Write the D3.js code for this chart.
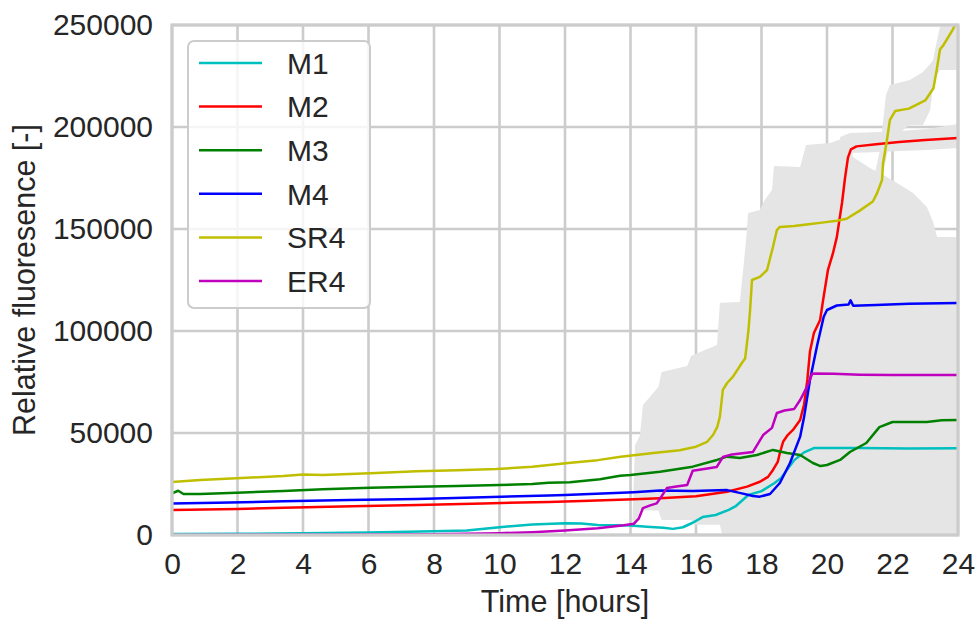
<!DOCTYPE html>
<html><head><meta charset="utf-8">
<script src="https://cdn.jsdelivr.net/npm/d3@7"></script>
<style>
html,body{margin:0;padding:0;background:#fff;}
svg{display:block;font-family:"Liberation Sans",Arial,sans-serif;}
</style></head>
<body><svg id="chart" width="976" height="619"></svg>
<script>
// ---------- data (time in hours, relative fluorescence) ----------
const seriesNames = ["M1","M2","M3","M4","SR4","ER4"];
const seriesColors = ["#00bfbf","#ff0000","#008000","#0000ff","#bfbf00","#bf00bf"];

const M1 = [[0,500],[2,600],[4,800],[6,1200],[8,1800],[9,2200],[10,3800],[11,5200],[12,5800],[12.5,5600],[13,4900],[14,4600],[14.5,4000],[15,3500],[15.3,3000],[15.6,3800],[15.9,6000],[16.2,8800],[16.6,9800],[17,12300],[17.2,14000],[17.6,19600],[18.0,21500],[18.4,25500],[18.6,28000],[19.0,36700],[19.3,40500],[19.6,42600],[21,42700],[22.5,42400],[24,42500]];
const M2 = [[0,12200],[2,12800],[3.4,13400],[5.5,14100],[7.5,14700],[9.5,15500],[11.5,16200],[12.5,16700],[14.1,17500],[14.9,18000],[16.0,19000],[16.95,21200],[17.56,23700],[17.95,26100],[18.2,28500],[18.35,31900],[18.5,36000],[18.56,40200],[18.66,45700],[18.8,49000],[18.96,51500],[19.18,56400],[19.3,64000],[19.4,76000],[19.48,90000],[19.6,99000],[19.79,105400],[19.88,115000],[20.03,130000],[20.18,138000],[20.3,146000],[20.46,163000],[20.55,175000],[20.64,185000],[20.73,189000],[20.9,190500],[21.5,191500],[22.2,192600],[23,193600],[24,194600]];
const M3 = [[0,20400],[0.19,21700],[0.35,20100],[0.86,20100],[1.97,20700],[3.4,21600],[4.6,22400],[6.05,23200],[7.47,23700],[8.7,24000],[10.0,24500],[11.0,25000],[11.5,25600],[12.15,25800],[13.07,27300],[13.68,29000],[14.0,29400],[14.9,31000],[15.9,33500],[16.64,36800],[16.95,38400],[17.34,37700],[17.86,39200],[18.35,41700],[18.78,40200],[19.18,39200],[19.57,35300],[19.8,33800],[20.0,34300],[20.4,36800],[20.7,40700],[21.2,45100],[21.6,52900],[22.0,55400],[23.05,55400],[23.5,56200],[24,56400]];
const M4 = [[0,15500],[1.36,15800],[3.4,16500],[5.4,17200],[7.47,17700],[9.5,18500],[11.5,19400],[12.0,19600],[14.1,21000],[14.9,21800],[15.9,21600],[16.95,22000],[17.4,20400],[17.74,19100],[17.95,18800],[18.26,20100],[18.56,25500],[18.87,35300],[19.18,48200],[19.3,57800],[19.48,76000],[19.7,93000],[19.9,107000],[20.0,110300],[20.3,112500],[20.66,113000],[20.72,115000],[20.8,112400],[21.5,112800],[22.5,113300],[24,113700]];
const SR4 = [[0,26000],[0.86,27000],[1.97,27800],[3.4,28900],[4.0,29700],[4.6,29400],[6.05,30300],[7.47,31200],[8.7,31800],[9.9,32300],[11.0,33500],[12.1,35300],[13.0,36700],[13.7,38400],[14.7,40200],[15.5,41500],[16.0,43300],[16.34,45700],[16.52,49000],[16.65,53000],[16.73,58000],[16.82,71100],[16.95,74500],[17.13,77600],[17.4,84300],[17.5,86500],[17.6,100000],[17.65,110000],[17.71,125000],[17.95,126500],[18.17,129900],[18.35,141200],[18.47,149500],[18.56,151000],[19.0,151500],[19.5,152500],[19.79,153000],[20.3,154000],[20.6,155000],[21.0,159000],[21.4,163500],[21.53,167600],[21.68,174000],[21.71,182000],[21.83,193600],[21.92,203400],[22.08,207800],[22.5,209000],[23.0,213000],[23.25,219000],[23.35,228000],[23.45,238000],[23.55,240000],[23.7,244000],[23.85,248000],[24,253000]];
const ER4 = [[0,0],[4,100],[8,400],[10,900],[11,1400],[12,2200],[13,3300],[13.8,4800],[14.1,5500],[14.25,8000],[14.38,13200],[14.6,14500],[14.8,15500],[14.95,19000],[15.11,23000],[15.4,23800],[15.73,24500],[15.9,31500],[16.3,32500],[16.63,33300],[16.82,38200],[17.1,39500],[17.74,40700],[18.05,49000],[18.32,52500],[18.47,59800],[18.7,61000],[19.0,61800],[19.18,66200],[19.4,73000],[19.55,79200],[20.2,79000],[21,78600],[22,78400],[24,78400]];
const seriesData = [M1, M2, M3, M4, SR4, ER4];

// spread bands (time, lower, upper), drawn in one grey
const bandMain = [[14.05,3000,3000],[14.14,5000,44100],[14.2,8000,46000],[14.29,12000,49000],[14.38,12000,63700],[14.85,12000,72500],[14.95,7400,79900],[15.73,7400,82800],[15.85,7400,87700],[15.95,5000,88500],[16.64,5000,93100],[16.73,5000,113700],[16.8,0,113800],[17.34,0,114200],[17.53,0,144600],[17.59,0,157800],[17.95,0,159300],[18.1,0,164200],[18.32,0,169100],[18.38,0,180900],[19.18,0,180400],[19.36,0,191200],[20.1,0,192200],[20.7,0,195600],[20.76,0,188700],[20.79,0,185300],[21.31,0,179900],[21.83,0,175500],[22.14,0,172500],[22.63,0,167600],[23.05,0,160800],[23.24,0,153400],[23.36,0,146100],[24,0,146100]];
const bandM2 = [[20.4,181400,195100],[20.7,187300,197100],[21.62,187700,197500],[22.23,188200,198000],[23.05,188700,199000],[24,189700,201500]];
const bandSR4 = [[20.79,156900,161800],[21.31,161800,166700],[21.62,171600,188700],[21.8,183800,215700],[21.92,193600,220600],[22.53,201000,223000],[22.93,201000,227000],[23.15,208300,230900],[23.24,220600,232800],[23.36,225500,242600],[23.45,227900,249000],[24,227900,252500]];
const bands = [bandMain, bandM2, bandSR4];

const xTicks = [0,2,4,6,8,10,12,14,16,18,20,22,24];
const yTicks = [0,50000,100000,150000,200000,250000];
const xLabel = "Time [hours]";
const yLabel = "Relative fluoresence [-]";

// ---------- layout ----------
const svg = d3.select("#chart");
const L = 172, R = 958, T = 25, B = 535;
const x = d3.scaleLinear().domain([0,24]).range([L,R]);
const y = d3.scaleLinear().domain([0,250000]).range([B,T]);
const gridColor = "#cccccc", textColor = "#262626";

svg.append("defs").append("clipPath").attr("id","plotclip")
  .append("rect").attr("x",L).attr("y",T).attr("width",R-L).attr("height",B-T);

// grid
const grid = svg.append("g");
grid.selectAll(".gx").data(xTicks).join("line")
  .attr("x1",d=>x(d)).attr("x2",d=>x(d)).attr("y1",T).attr("y2",B)
  .attr("stroke",gridColor).attr("stroke-width",2.6);
grid.selectAll(".gy").data(yTicks).join("line")
  .attr("y1",d=>y(d)).attr("y2",d=>y(d)).attr("x1",L).attr("x2",R)
  .attr("stroke",gridColor).attr("stroke-width",2.6);

// bands
const area = d3.area().x(d=>x(d[0])).y0(d=>y(d[1])).y1(d=>y(d[2]));
const plot = svg.append("g").attr("clip-path","url(#plotclip)");
plot.selectAll(".band").data(bands).join("path")
  .attr("d",area).attr("fill","#e5e5e5").attr("stroke","none");

// lines
const line = d3.line().x(d=>x(d[0])).y(d=>y(d[1]));
plot.selectAll(".series").data(seriesData).join("path")
  .attr("d",line).attr("fill","none")
  .attr("stroke",(d,i)=>seriesColors[i]).attr("stroke-width",2.5)
  .attr("stroke-linejoin","round");

// spines
svg.append("rect").attr("x",L).attr("y",T).attr("width",R-L).attr("height",B-T)
  .attr("fill","none").attr("stroke",gridColor).attr("stroke-width",3.2);

// axes
const fs = 30;
const xAxis = svg.append("g").attr("transform",`translate(0,${B})`)
  .call(d3.axisBottom(x).tickValues(xTicks).tickSize(0).tickPadding(18).tickFormat(d3.format("d")));
const yAxis = svg.append("g").attr("transform",`translate(${L},0)`)
  .call(d3.axisLeft(y).tickValues(yTicks).tickSize(0).tickPadding(19).tickFormat(d3.format("d")));
[xAxis,yAxis].forEach(a=>{
  a.select(".domain").remove();
  a.selectAll("text").attr("font-size",fs).attr("fill",textColor)
    .attr("font-family","'Liberation Sans',Arial,sans-serif");
});

svg.append("text").attr("x",(L+R)/2).attr("y",612).attr("text-anchor","middle")
  .attr("font-size",30.5).attr("fill",textColor).text(xLabel);
svg.append("text").attr("transform",`translate(35,${(T+B)/2}) rotate(-90)`)
  .attr("text-anchor","middle").attr("font-size",30.5).attr("fill",textColor).text(yLabel);

// legend
const lg = svg.append("g");
lg.append("rect").attr("x",188).attr("y",41).attr("width",182).attr("height",267)
  .attr("rx",6).attr("fill","#ffffff").attr("fill-opacity",0.8)
  .attr("stroke",gridColor).attr("stroke-width",2);
const rows = lg.selectAll(".row").data(seriesNames).join("g")
  .attr("transform",(d,i)=>`translate(0,${63 + i*43.6})`);
rows.append("line").attr("x1",199).attr("x2",262).attr("y1",0).attr("y2",0)
  .attr("stroke",(d,i)=>seriesColors[i]).attr("stroke-width",2.5);
rows.append("text").attr("x",287).attr("y",0).attr("dy","0.36em")
  .attr("font-size",fs).attr("fill",textColor).text(d=>d);
</script>
</body></html>
